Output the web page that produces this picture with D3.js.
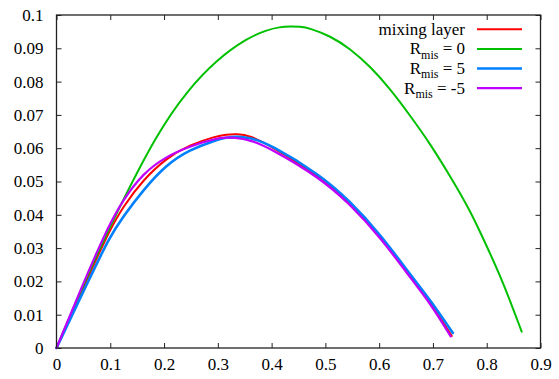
<!DOCTYPE html>
<html><head><meta charset="utf-8">
<script src="https://cdn.jsdelivr.net/npm/d3@7"></script>
<style>
html,body{margin:0;padding:0;background:#fff;}
svg{display:block;}
svg text{font-family:"Liberation Serif","Times New Roman","Tinos","Nimbus Roman","DejaVu Serif",serif;}
</style></head><body>
<svg id="c" width="559" height="379"></svg>
<script>
const xTicks = [0,0.1,0.2,0.3,0.4,0.5,0.6,0.7,0.8,0.9];
const yTicks = [0,0.01,0.02,0.03,0.04,0.05,0.06,0.07,0.08,0.09,0.1];
const xTickLabels = ["0","0.1","0.2","0.3","0.4","0.5","0.6","0.7","0.8","0.9"];
const yTickLabels = ["0","0.01","0.02","0.03","0.04","0.05","0.06","0.07","0.08","0.09","0.1"];

const seriesNames = ["mixing layer","R_mis = 0","R_mis = 5","R_mis = -5"];
const seriesColors = ["#ff0000","#00c000","#0080ff","#c000ff"];

const redX = [0,0.055,0.0987,0.1236,0.161,0.204,0.247,0.297,0.315,0.335,0.36,0.397,0.49,0.545,0.602,0.664,0.695,0.735];
const redY = [0,0.020,0.0354,0.0424,0.0505,0.057,0.061,0.0636,0.0641,0.0643,0.0638,0.0608,0.0515,0.0437,0.0337,0.0201,0.0137,0.0036];

const greenX = [0,0.0616,0.111,0.187,0.2426,0.298,0.354,0.391,0.415,0.435,0.453,0.47,0.509,0.546,0.583,0.62,0.658,0.695,0.732,0.769,0.8,0.831,0.865];
const greenY = [0,0.0234,0.0404,0.0645,0.0772,0.0866,0.093,0.0955,0.0964,0.0966,0.0965,0.0961,0.0937,0.0899,0.0846,0.0779,0.0697,0.0613,0.0516,0.0414,0.0306,0.0196,0.0049];

const blueX = [0,0.059,0.0987,0.1236,0.161,0.204,0.247,0.297,0.315,0.334,0.36,0.397,0.49,0.545,0.602,0.664,0.695,0.737];
const blueY = [0,0.020,0.0334,0.0394,0.0474,0.055,0.0595,0.0625,0.0632,0.0635,0.0632,0.0612,0.0520,0.0442,0.0342,0.0207,0.0144,0.0045];

const purpleX = [0,0.051,0.0987,0.1236,0.161,0.204,0.247,0.297,0.315,0.33,0.36,0.397,0.49,0.545,0.602,0.664,0.695,0.733];
const purpleY = [0,0.020,0.0374,0.0444,0.0525,0.0575,0.0605,0.063,0.0632,0.0632,0.0625,0.060,0.0511,0.0433,0.0333,0.0198,0.0134,0.0035];

const svg = d3.select("#c");
const L = 56.5, R = 540.5, T = 15, B = 348;
const x = d3.scaleLinear().domain([0,0.9]).range([L,R]);
const y = d3.scaleLinear().domain([0,0.1]).range([B,T]);

const axisColor = "#222";
const fs = 17;
const FF = "Liberation Serif, Times New Roman, Tinos, Nimbus Roman, DejaVu Serif, serif";

const tl = 5;
const g = svg.append("g");
const xb = d3.axisBottom(x).tickValues(xTicks).tickSizeInner(-tl).tickSizeOuter(0).tickFormat((d,i)=>xTickLabels[i]).tickPadding(10);
const xt = d3.axisTop(x).tickValues(xTicks).tickSizeInner(-tl).tickSizeOuter(0).tickFormat("");
const yl = d3.axisLeft(y).tickValues(yTicks).tickSizeInner(-tl).tickSizeOuter(0).tickFormat((d,i)=>yTickLabels[i]).tickPadding(13);
const yr = d3.axisRight(y).tickValues(yTicks).tickSizeInner(-tl).tickSizeOuter(0).tickFormat("");

function style(sel){
  sel.attr("font-family",FF).attr("font-size",fs);
  sel.select(".domain").remove();
  sel.selectAll("line").attr("stroke",axisColor).attr("stroke-width",1);
  sel.selectAll("text").attr("fill","#000").attr("font-size",fs).attr("font-family",FF);
}
g.append("g").attr("transform",`translate(0,${B})`).call(xb).call(style);
g.append("g").attr("transform",`translate(0,${T})`).call(xt).call(style);
g.append("g").attr("transform",`translate(${L},0)`).call(yl).call(style);
g.append("g").attr("transform",`translate(${R},0)`).call(yr).call(style);

const series = [
  {xs:redX, ys:redY},
  {xs:greenX, ys:greenY},
  {xs:blueX, ys:blueY},
  {xs:purpleX, ys:purpleY}
];
const line = d3.line().x(d=>x(d[0])).y(d=>y(d[1])).curve(d3.curveBasis);
const widths = [2,2,2.6,2.2];
series.forEach((s,i)=>{
  const pts = s.xs.map((v,j)=>[v,s.ys[j]]);
  svg.append("path").attr("d",line(pts)).attr("fill","none")
    .attr("stroke",seriesColors[i]).attr("stroke-width",widths[i])
    .attr("stroke-linejoin","round").attr("stroke-linecap","round");
});

svg.append("rect").attr("x",L).attr("y",T).attr("width",R-L).attr("height",B-T)
  .attr("fill","none").attr("stroke",axisColor).attr("stroke-width",1.3);

const lx = 465, ly0 = 29.3, ldy = 19.6;
seriesNames.forEach((n,i)=>{
  const yy = ly0 + i*ldy;
  const t = svg.append("text").attr("x",lx).attr("y",yy).attr("dy","0.32em")
    .attr("text-anchor","end").attr("font-size",fs).attr("font-family",FF).attr("fill","#000");
  if(n.startsWith("R_mis")){
    const rest = n.slice(5);
    t.append("tspan").text("R");
    t.append("tspan").attr("font-size",12).attr("dy",4.5).text("mis");
    t.append("tspan").attr("dy",-4.5).text(rest);
  } else {
    t.text(n);
  }
  svg.append("line").attr("x1",477).attr("x2",522).attr("y1",yy).attr("y2",yy)
    .attr("stroke",seriesColors[i]).attr("stroke-width",widths[i]);
});
</script>
</body></html>
